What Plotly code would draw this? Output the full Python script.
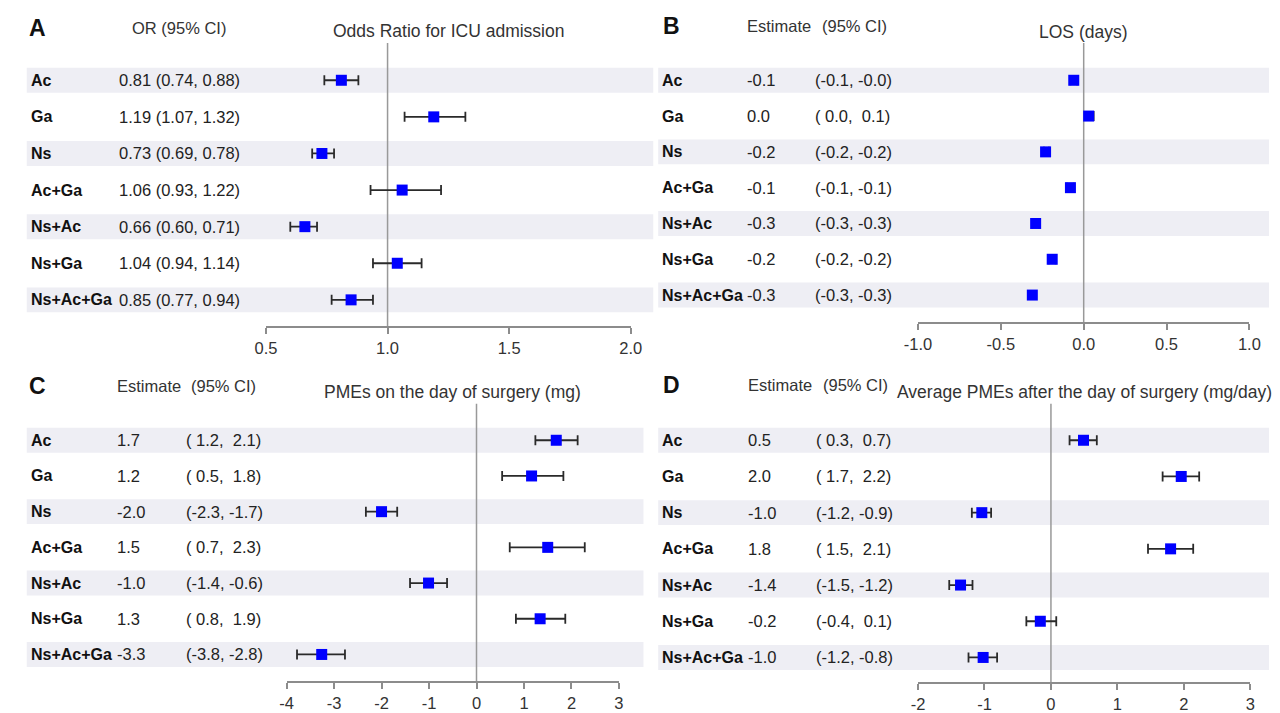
import plotly.graph_objects as go

W, H = 1280, 713

# ---- data -------------------------------------------------------------
groups = ["Ac", "Ga", "Ns", "Ac+Ga", "Ns+Ac", "Ns+Ga", "Ns+Ac+Ga"]

# A: odds ratio for ICU admission
icu_or = [0.81, 1.19, 0.73, 1.06, 0.66, 1.04, 0.85]
icu_lo = [0.74, 1.07, 0.69, 0.93, 0.60, 0.94, 0.77]
icu_hi = [0.88, 1.32, 0.78, 1.22, 0.71, 1.14, 0.94]

# B: length of stay (days)
los_est = [-0.06, 0.03, -0.23, -0.08, -0.29, -0.19, -0.31]
los_lo = [-0.08, 0.01, -0.24, -0.10, -0.31, -0.21, -0.33]
los_hi = [-0.04, 0.06, -0.21, -0.06, -0.27, -0.17, -0.29]

# C: PMEs on the day of surgery (mg)
pme0_est = [1.68, 1.16, -2.00, 1.50, -1.01, 1.34, -3.26]
pme0_lo = [1.24, 0.54, -2.33, 0.70, -1.40, 0.83, -3.78]
pme0_hi = [2.13, 1.83, -1.67, 2.28, -0.62, 1.87, -2.77]

# D: average PMEs after the day of surgery (mg/day)
pmeavg_est = [0.49, 1.96, -1.04, 1.80, -1.36, -0.16, -1.02]
pmeavg_lo = [0.28, 1.68, -1.19, 1.46, -1.53, -0.37, -1.24]
pmeavg_hi = [0.69, 2.23, -0.90, 2.14, -1.18, 0.08, -0.81]

ticks_a = [0.5, 1.0, 1.5, 2.0]
ticktext_a = ["0.5", "1.0", "1.5", "2.0"]
ticks_b = [-1.0, -0.5, 0.0, 0.5, 1.0]
ticktext_b = ["-1.0", "-0.5", "0.0", "0.5", "1.0"]
ticks_c = [-4, -3, -2, -1, 0, 1, 2, 3]
ticktext_c = ["-4", "-3", "-2", "-1", "0", "1", "2", "3"]
ticks_d = [-2, -1, 0, 1, 2, 3]
ticktext_d = ["-2", "-1", "0", "1", "2", "3"]

# ---- styling ----------------------------------------------------------
FONT = "Arial, 'Liberation Sans', sans-serif"
TXT = "#222222"
BAND = "#EEEEF4"
NB = "\u00a0"


def px(x):
    return x / W


def py(y):
    return 1 - y / H


def ci_text(lo, hi):
    return ("(%4.1f, %4.1f)" % (lo, hi)).replace(" ", NB)


panels = [
    dict(letter="A", est=icu_or, lo=icu_lo, hi=icu_hi, ref=1.0,
         tv=ticks_a, tt=ticktext_a, title="Odds Ratio for ICU admission",
         ax0=257, ax1=629, axis_y=327, top=43, first=80.5, step=36.7,
         band=(13, 652), lab_x=15, letter_x=13, head_y=28, title_y=31,
         kind="or", val_x=105, head_x=118),
    dict(letter="B", est=los_est, lo=los_lo, hi=los_hi, ref=0.0,
         tv=ticks_b, tt=ticktext_b, title="LOS (days)",
         ax0=922, ax1=1260, axis_y=323, top=43, first=80.5, step=35.9,
         band=(657, 1280), lab_x=659, letter_x=660, head_y=26, title_y=32,
         kind="est", est_x=746, ci_x=815, head_ex=746, head_cx=822),
    dict(letter="C", est=pme0_est, lo=pme0_lo, hi=pme0_hi, ref=0.0,
         tv=ticks_c, tt=ticktext_c, title="PMEs on the day of surgery (mg)",
         ax0=278, ax1=617, axis_y=683, top=405, first=441.5, step=35.8,
         band=(13, 642), lab_x=15, letter_x=13, head_y=387, title_y=393,
         kind="est", est_x=103, ci_x=173, head_ex=103, head_cx=178),
    dict(letter="D", est=pmeavg_est, lo=pmeavg_lo, hi=pmeavg_hi, ref=0.0,
         tv=ticks_d, tt=ticktext_d,
         title="Average PMEs after the day of surgery (mg/day)",
         ax0=922, ax1=1261, axis_y=684, top=405, first=441.5, step=36.3,
         band=(657, 1280), lab_x=659, letter_x=660, head_y=386, title_y=393,
         kind="est", est_x=747, ci_x=816, head_ex=747, head_cx=823),
]

fig = go.Figure()
layout = dict(width=W, height=H, margin=dict(l=0, r=0, t=0, b=0),
              paper_bgcolor="white", plot_bgcolor="rgba(0,0,0,0)",
              showlegend=False, font=dict(family=FONT, color=TXT))
shapes, annotations = [], []


def ann(x, y, text, size=16.5, bold=False, color=TXT, xanchor="left"):
    annotations.append(dict(
        x=px(x), y=py(y), xref="paper", yref="paper", text=text,
        showarrow=False, xanchor=xanchor, yanchor="middle",
        font=dict(family=FONT, size=size, color=color,
                  weight="bold" if bold else "normal")))


for i, p in enumerate(panels, start=1):
    xa = "x" if i == 1 else f"x{i}"
    ya = "y" if i == 1 else f"y{i}"
    xkey = "xaxis" if i == 1 else f"xaxis{i}"
    ykey = "yaxis" if i == 1 else f"yaxis{i}"
    n = len(groups)

    # row index -> pixel mapping through the y range
    v_top = (p["top"] - p["first"]) / p["step"]
    v_bot = (p["axis_y"] - p["first"]) / p["step"]

    layout[xkey] = dict(
        domain=[px(p["ax0"]), px(p["ax1"])], range=[p["tv"][0], p["tv"][-1]],
        anchor=ya, tickmode="array", tickvals=p["tv"], ticktext=p["tt"],
        showline=True, linecolor="#8c8c8c", linewidth=1.5,
        ticks="outside", ticklen=6, tickwidth=1.5, tickcolor="#8c8c8c",
        showgrid=False, zeroline=False, fixedrange=True,
        tickfont=dict(family=FONT, size=16.5, color="#333333"))
    layout[ykey] = dict(
        domain=[py(p["axis_y"]), py(p["top"])], range=[v_bot, v_top],
        anchor=xa, visible=False, fixedrange=True)

    # alternating row bands
    for r in range(0, n, 2):
        shapes.append(dict(type="rect", xref="paper", yref=ya,
                           x0=px(p["band"][0]), x1=px(p["band"][1]),
                           y0=r - 12.5 / p["step"], y1=r + 12.5 / p["step"],
                           fillcolor=BAND, line=dict(width=0), layer="below"))
    # reference line
    shapes.append(dict(type="line", xref=xa, yref=f"{ya} domain",
                       x0=p["ref"], x1=p["ref"], y0=0, y1=1,
                       line=dict(color="#999999", width=1.5), layer="below"))

    fig.add_trace(go.Scatter(
        x=p["est"], y=list(range(n)), xaxis=xa, yaxis=ya, mode="markers",
        marker=dict(symbol="square", size=11, color="#0000FF"),
        error_x=dict(type="data", symmetric=False,
                     array=[h - e for h, e in zip(p["hi"], p["est"])],
                     arrayminus=[e - l for e, l in zip(p["est"], p["lo"])],
                     color="#2a2a2a", thickness=1.8, width=5),
        cliponaxis=False, customdata=groups,
        hovertemplate="%{customdata}: %{x}<extra></extra>"))

    # panel letter, headers, title
    ann(p["letter_x"], p["head_y"], p["letter"], size=23, bold=True,
        color="#111111")
    if p["kind"] == "or":
        ann(p["head_x"], p["head_y"], "OR (95% CI)", color="#333333")
    else:
        ann(p["head_ex"], p["head_y"], "Estimate", color="#333333")
        ann(p["head_cx"], p["head_y"], "(95% CI)", color="#333333")
    ann((p["ax0"] + p["ax1"]) / 2, p["title_y"], p["title"], size=17.5,
        color="#333333", xanchor="center")

    # table rows
    for r, g in enumerate(groups):
        yy = p["first"] + r * p["step"]
        ann(p["lab_x"], yy, g, size=16, bold=True, color="#111111")
        e, lo, hi = p["est"][r], p["lo"][r], p["hi"][r]
        if p["kind"] == "or":
            ann(p["val_x"], yy, "%.2f (%.2f, %.2f)" % (e, lo, hi))
        else:
            ann(p["est_x"], yy, "%.1f" % e)
            ann(p["ci_x"], yy, ci_text(lo, hi))

layout["shapes"] = shapes
layout["annotations"] = annotations
fig.update_layout(**layout)

fig.write_html("out.html")
